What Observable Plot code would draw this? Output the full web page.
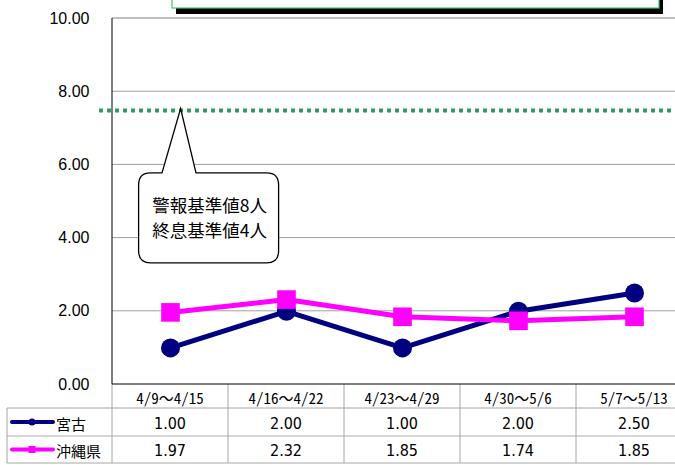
<!DOCTYPE html>
<html><head><meta charset="utf-8">
<script src="https://cdn.jsdelivr.net/npm/d3@7"></script>
<script src="https://cdn.jsdelivr.net/npm/@observablehq/plot@0.6"></script>
<style>
html,body{margin:0;padding:0;background:#fff;overflow:hidden}
#chart svg{display:block;overflow:hidden}
</style>
</head><body><div id="chart"></div>
<script>
// ---- data ----
const weeks = ["4/9～4/15","4/16～4/22","4/23～4/29","4/30～5/6","5/7～5/13"];
const miyako = [1.00, 2.00, 1.00, 2.00, 2.50];
const okinawa = [1.97, 2.32, 1.85, 1.74, 1.85];
const seriesNames = ["宮古","沖縄県"];
const seriesColors = ["#000080","#FF00FF"];
const yTicks = [0, 2, 4, 6, 8, 10];
const thresholdLevel = 7.47;
const calloutLines = ["警報基準値8人","終息基準値4人"];

const rows = [
  ...weeks.map((w,i)=>({week:w, series:seriesNames[0], value:miyako[i]})),
  ...weeks.map((w,i)=>({week:w, series:seriesNames[1], value:okinawa[i]}))
];
const tableValues = [miyako, okinawa];

const NS = "http://www.w3.org/2000/svg";
function el(tag, attrs, text){
  const e = document.createElementNS(NS, tag);
  for (const k in attrs) e.setAttribute(k, attrs[k]);
  if (text != null) e.textContent = text;
  return e;
}
const valueFont = "'Liberation Sans Narrow','DejaVu Sans Condensed','Noto Sans CJK JP',sans-serif";
const headFont = "'Noto Sans Mono CJK JP','Noto Sans CJK JP',sans-serif";
const cjkFont = "'Noto Sans CJK JP',sans-serif";

// frame, table, legend
function frameAndTable(index, scales, values, dim){
  const g = el("g", {"text-anchor":"start"});
  const x = scales.x, y = scales.y;
  const step = x(weeks[1]) - x(weeks[0]);
  const left = x(weeks[0]) - step/2;
  const right = dim.width;
  const y0 = y(0), yTop = y(10);
  const rowH = [24, 28, 27];
  const rTop = [y0, y0+rowH[0], y0+rowH[0]+rowH[1]];
  const rBot = rTop[2] + rowH[2];
  const grid = "#a6a6a6";
  // gridlines
  yTicks.filter(v=>v>0 && v<10).forEach(v=>{
    g.append(el("line",{x1:left,x2:right,y1:y(v),y2:y(v),stroke:"#a0a0a0"}));
  });
  // table horizontal lines
  g.append(el("line",{x1:7,x2:right,y1:rTop[1],y2:rTop[1],stroke:grid}));
  g.append(el("line",{x1:7,x2:right,y1:rTop[2],y2:rTop[2],stroke:"#c8c8c8","stroke-width":1.5}));
  g.append(el("line",{x1:7,x2:right,y1:rBot,y2:rBot,stroke:grid}));
  g.append(el("line",{x1:7,x2:7,y1:rTop[1],y2:rBot,stroke:grid}));
  for (let k=0;k<=weeks.length;k++){
    const xx = left + k*step;
    g.append(el("line",{x1:xx,x2:xx,y1:y0,y2:rBot,stroke:grid}));
  }
  // plot frame
  g.append(el("line",{x1:left,x2:right,y1:yTop,y2:yTop,stroke:"#808080"}));
  g.append(el("line",{x1:left,x2:left,y1:yTop,y2:y0,stroke:"#000"}));
  g.append(el("line",{x1:left,x2:right,y1:y0,y2:y0,stroke:"#000"}));
  // threshold dotted line
  g.append(el("line",{x1:left-13,x2:right,y1:y(thresholdLevel),y2:y(thresholdLevel),stroke:"#339966","stroke-width":4,"stroke-dasharray":"4,4"}));
  // header labels
  weeks.forEach(w=>{
    g.append(el("text",{x:x(w),y:rTop[0]+rowH[0]/2+1,"text-anchor":"middle","dominant-baseline":"central","font-family":headFont,"font-size":15,fill:"#000"}, w));
  });
  // rows
  seriesNames.forEach((s,si)=>{
    const cy = rTop[si+1] + rowH[si+1]/2;
    g.append(el("line",{x1:12,x2:53,y1:cy,y2:cy,stroke:seriesColors[si],"stroke-width":4,"stroke-linecap":"round"}));
    if (si===0) g.append(el("circle",{cx:32,cy:cy,r:3.5,fill:seriesColors[si]}));
    else g.append(el("rect",{x:28.5,y:cy-3.5,width:7,height:7,fill:seriesColors[si]}));
    g.append(el("text",{x:56,y:cy+1,"text-anchor":"start","dominant-baseline":"central","font-family":cjkFont,"font-size":15,fill:"#000"}, s));
    weeks.forEach((w,i)=>{
      g.append(el("text",{x:x(w),y:cy+1,"text-anchor":"middle","dominant-baseline":"central","font-family":valueFont,"font-size":16,fill:"#000"}, tableValues[si][i].toFixed(2)));
    });
  });
  // title box at top (cut off)
  const tx0 = left + 60, tx1 = left + 547;
  g.append(el("rect",{x:tx0+4,y:-30,width:tx1-tx0,height:yTop-4+30,fill:"#000"}));
  g.append(el("rect",{x:tx0,y:-30,width:tx1-tx0,height:yTop-10+30,fill:"#fff",stroke:"#3cc878","stroke-width":1.2}));
  return g;
}

function callout(index, scales){
  const g = el("g", {});
  const x = scales.x, y = scales.y;
  const cx = x(weeks[0]);
  const tipX = cx + 10.6, tipY = y(thresholdLevel) - 2;
  const bx0 = cx - 31.4, bx1 = cx + 108.6;
  const by0 = y(5.77), by1 = y(3.31);
  const r = 12;
  const p0 = cx - 8, p1 = cx + 26;
  const d = `M${bx0+r},${by0} L${p0},${by0} L${tipX},${tipY} L${p1},${by0} L${bx1-r},${by0} Q${bx1},${by0} ${bx1},${by0+r} L${bx1},${by1-r} Q${bx1},${by1} ${bx1-r},${by1} L${bx0+r},${by1} Q${bx0},${by1} ${bx0},${by1-r} L${bx0},${by0+r} Q${bx0},${by0} ${bx0+r},${by0} Z`;
  g.append(el("path",{d, fill:"#fff", stroke:"#000","stroke-width":1.3,"stroke-linejoin":"miter"}));
  const mx = (bx0+bx1)/2 + 1;
  const my = (by0+by1)/2;
  calloutLines.forEach((t,i)=>{
    g.append(el("text",{x:mx,y:my + (i-0.5)*25 - 1,"text-anchor":"middle","dominant-baseline":"central","font-family":cjkFont,"font-size":17.5,fill:"#000"}, t));
  });
  return g;
}

const chart = Plot.plot({
  width: 675,
  height: 465,
  marginLeft: 110,
  marginTop: 18,
  marginBottom: 81,
  marginRight: 0,
  style: {background:"#fff", overflow:"hidden"},
  x: {type:"point", domain: weeks, range:[110, 693.75], padding:0.5, axis:null},
  y: {domain:[0,10], range:[384, 18], axis:null},
  color: {domain: seriesNames, range: seriesColors},
  marks: [
    frameAndTable,
    Plot.line(rows, {x:"week", y:"value", z:"series", stroke:"series", strokeWidth:5}),
    Plot.dot(rows.filter(d=>d.series===seriesNames[0]), {x:"week", y:"value", r:9.5, fill:seriesColors[0], stroke:null, symbol:"circle"}),
    Plot.dot(rows.filter(d=>d.series===seriesNames[1]), {x:"week", y:"value", r:10.5, fill:seriesColors[1], stroke:null, symbol:"square"}),
    callout,
    Plot.axisY(yTicks, {tickSize:0, tickPadding:21, tickFormat:d=>d.toFixed(2), fontSize:16, fontFamily:"'Liberation Sans',Arial,sans-serif", fill:"#000", label:null})
  ]
});
document.getElementById("chart").append(chart);
</script>
</body></html>
